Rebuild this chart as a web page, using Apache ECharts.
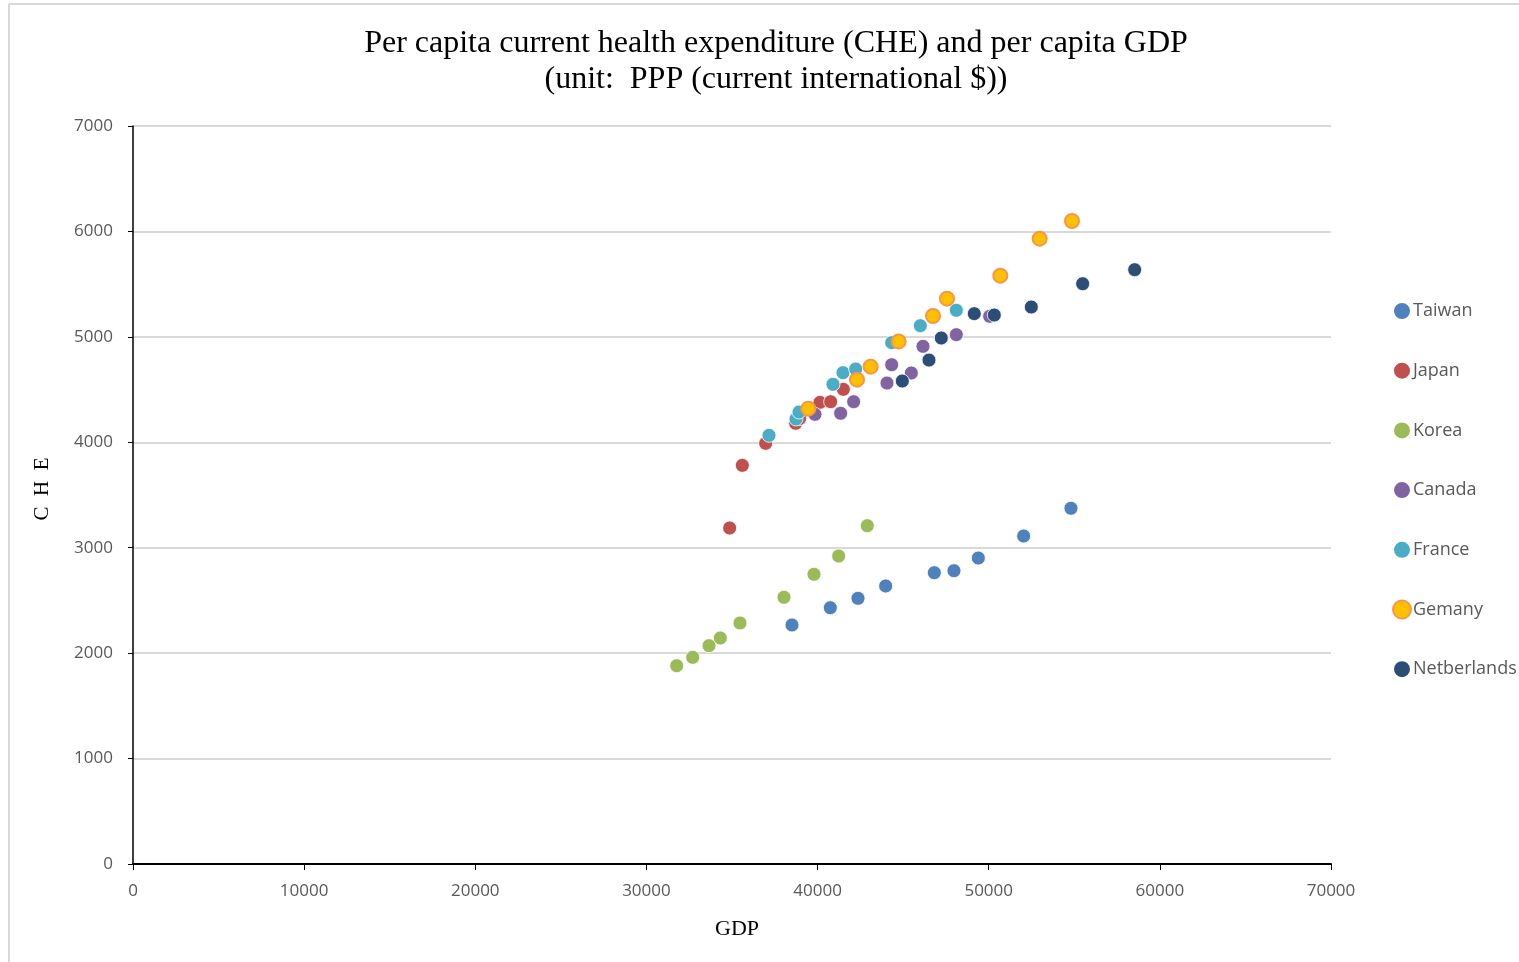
<!DOCTYPE html>
<html>
<head>
<meta charset="utf-8">
<script src="https://cdn.jsdelivr.net/npm/echarts@6/dist/echarts.min.js"></script>
<style>
html,body{margin:0;padding:0;background:#fff;}
#chart{width:1519px;height:962px;}
</style>
</head>
<body>
<div id="chart"></div>
<script>
// ---- data (GDP, CHE per capita, PPP current international $) ----
const seriesNames = ['Taiwan','Japan','Korea','Canada','France','Gemany','Netberlands'];
const taiwanGDP = [38505, 40745, 42362, 43979, 46822, 47970, 49393, 52042, 54807];
const taiwanCHE = [2267, 2431, 2520, 2637, 2763, 2782, 2902, 3111, 3374];
const japanGDP = [34863, 35603, 36966, 38720, 38950, 40141, 40765, 41505];
const japanCHE = [3187, 3781, 3990, 4180, 4225, 4379, 4385, 4502];
const koreaGDP = [31768, 32703, 33656, 34317, 35467, 38038, 39791, 41232, 42906];
const koreaCHE = [1881, 1960, 2071, 2144, 2286, 2530, 2748, 2921, 3209];
const canadaGDP = [39849, 41349, 42108, 44056, 44330, 45477, 46160, 48107, 50055];
const canadaCHE = [4265, 4275, 4385, 4562, 4736, 4657, 4910, 5021, 5195];
const franceGDP = [37161, 38739, 38914, 40901, 41485, 42225, 44330, 46004, 48107];
const franceCHE = [4066, 4221, 4287, 4550, 4660, 4695, 4945, 5106, 5252];
const germanyGDP = [39460, 42303, 43101, 44738, 46744, 47562, 50678, 52977, 54866];
const germanyCHE = [4319, 4594, 4717, 4957, 5198, 5362, 5580, 5931, 6099];
const netherlandsGDP = [44951, 46510, 47229, 49157, 50326, 52488, 55490, 58529];
const netherlandsCHE = [4581, 4780, 4989, 5220, 5207, 5283, 5504, 5637];

const xTicks = [0, 10000, 20000, 30000, 40000, 50000, 60000, 70000];
const yTicks = [0, 1000, 2000, 3000, 4000, 5000, 6000, 7000];

const titleLine1 = 'Per capita current health expenditure (CHE) and per capita GDP';
const titleLine2 = '(unit:  PPP (current international $))';
const xName = 'GDP';
const yName = 'C  H  E';

const gdpLists = [taiwanGDP, japanGDP, koreaGDP, canadaGDP, franceGDP, germanyGDP, netherlandsGDP];
const cheLists = [taiwanCHE, japanCHE, koreaCHE, canadaCHE, franceCHE, germanyCHE, netherlandsCHE];

const fills = ['#4F81BD','#C0504D','#9BBB59','#8064A2','#4BACC6','#FFC000','#2C4D75'];
const borders = ['#ffffff','#ffffff','#ffffff','#ffffff','#ffffff','#F79646','#ffffff'];
const borderWidths = [0.8,0.8,0.8,0.8,0.8,2,0.8];

const series = seriesNames.map((name, i) => ({
  name: name,
  type: 'scatter',
  symbol: 'circle',
  symbolSize: 14,
  data: gdpLists[i].map((g, j) => [g, cheLists[i][j]]),
  itemStyle: { color: fills[i], borderColor: borders[i], borderWidth: borderWidths[i], opacity: 1 },
  emphasis: { disabled: true }
}));

const plain = v => String(v);

const chart = echarts.init(document.getElementById('chart'));
chart.setOption({
  backgroundColor: '#ffffff',
  animation: false,
  title: {
    text: titleLine1 + '\n' + titleLine2,
    left: 771,
    top: 21,
    textAlign: 'center',
    textStyle: {
      fontFamily: 'Liberation Serif',
      fontSize: 32,
      fontWeight: 'normal',
      color: '#000000',
      lineHeight: 36
    }
  },
  grid: { left: 133, right: 188, top: 126, bottom: 98, containLabel: false },
  legend: {
    orient: 'vertical',
    left: 1387,
    top: 296,
    itemWidth: 18,
    itemHeight: 18,
    itemGap: 39.7,
    icon: 'circle',
    textStyle: { fontFamily: 'Open Sans', fontSize: 18, color: '#595959', lineHeight: 20, padding: [0,0,0,-3] },
    data: seriesNames
  },
  xAxis: {
    type: 'value',
    min: xTicks[0],
    max: xTicks[xTicks.length - 1],
    interval: xTicks[1] - xTicks[0],
    name: xName,
    nameLocation: 'middle',
    nameGap: 54,
    nameTextStyle: { fontFamily: 'Liberation Serif', fontSize: 22, color: '#000000', padding: [0,0,0,10] },
    axisLine: { show: true, onZero: false, lineStyle: { color: '#000000', width: 2 } },
    axisTick: { show: true, inside: false, length: 6, lineStyle: { color: '#000000', width: 1 } },
    axisLabel: { fontFamily: 'Open Sans', fontSize: 17, color: '#595959', margin: 19, formatter: plain },
    splitLine: { show: false }
  },
  yAxis: {
    type: 'value',
    min: yTicks[0],
    max: yTicks[yTicks.length - 1],
    interval: yTicks[1] - yTicks[0],
    name: yName,
    nameLocation: 'middle',
    nameGap: 80,
    nameRotate: 90,
    nameTextStyle: { fontFamily: 'Liberation Serif', fontSize: 21, color: '#000000', padding: [0,0,0,12] },
    axisLine: { show: true, onZero: false, lineStyle: { color: '#000000', width: 1.5 } },
    axisTick: { show: true, inside: false, length: 5, lineStyle: { color: '#000000', width: 1 } },
    axisLabel: { fontFamily: 'Open Sans', fontSize: 17, color: '#595959', margin: 20, formatter: plain },
    splitLine: { show: true, lineStyle: { color: '#D9D9D9', width: 2 } }
  },
  graphic: [
    { type: 'line', shape: { x1: 9, y1: 4, x2: 1519, y2: 4 }, style: { stroke: '#D9D9D9', lineWidth: 2 }, silent: true },
    { type: 'line', shape: { x1: 9, y1: 4, x2: 9, y2: 962 }, style: { stroke: '#D9D9D9', lineWidth: 2 }, silent: true }
  ],
  series: series
});
</script>
</body>
</html>
